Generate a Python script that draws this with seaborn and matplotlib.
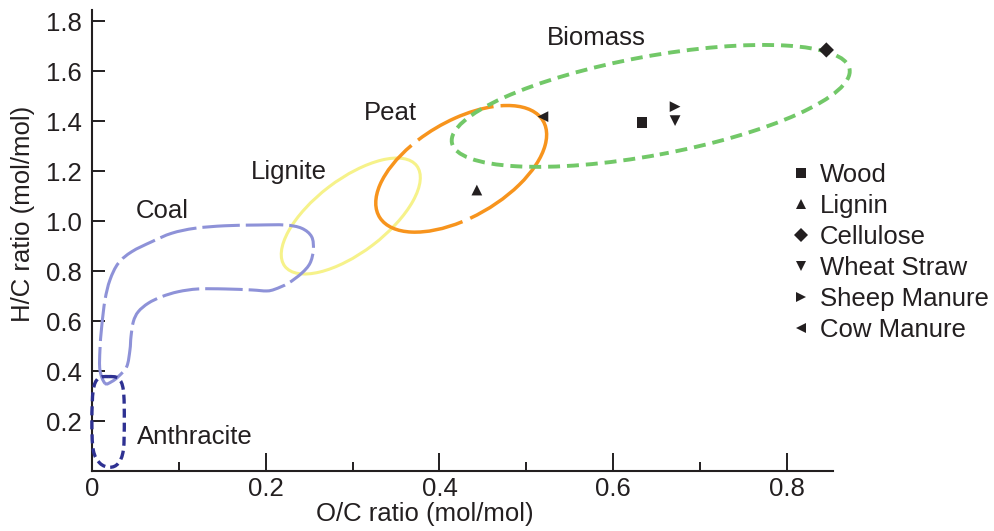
import numpy as np
import pandas as pd
import matplotlib
matplotlib.use("Agg")
import matplotlib.pyplot as plt
import seaborn as sns
from matplotlib.patches import Ellipse, Arc, PathPatch
from matplotlib.path import Path
from matplotlib.transforms import ScaledTranslation
from matplotlib.lines import Line2D
from matplotlib.ticker import MultipleLocator, FuncFormatter

# ---- feedstock samples (atomic ratios) ----
materials = ["Wood", "Lignin", "Cellulose", "Wheat Straw", "Sheep Manure", "Cow Manure"]
oc_ratio = [0.633, 0.443, 0.845, 0.671, 0.671, 0.519]
hc_ratio = [1.397, 1.125, 1.686, 1.403, 1.459, 1.419]
marker_shapes = ["s", "^", "D", "v", ">", "<"]

# ---- fuel regions drawn as ellipses: centre in (O/C, H/C) ----
region_names = ["Lignite", "Peat", "Biomass"]
region_oc = [0.298, 0.425, 0.643]
region_hc = [1.021, 1.210, 1.462]

# ---- coal band outline (O/C, H/C), traced clockwise from the lower-left tip ----
coal_oc = [0.0153, 0.0095, 0.0095, 0.0115, 0.0153, 0.0210, 0.0306, 0.0460, 0.0690,
           0.0920, 0.1188, 0.1533, 0.1916, 0.2223, 0.2415, 0.2530, 0.2549, 0.2511,
           0.2415, 0.2261, 0.2108, 0.2013, 0.1840, 0.1533, 0.1226, 0.0996, 0.0805,
           0.0651, 0.0536, 0.0479, 0.0452, 0.0440, 0.0403, 0.0306, 0.0230]
coal_hc = [0.351, 0.404, 0.485, 0.578, 0.685, 0.765, 0.832, 0.878, 0.918,
           0.952, 0.972, 0.982, 0.985, 0.985, 0.972, 0.938, 0.885, 0.832,
           0.792, 0.752, 0.728, 0.721, 0.725, 0.729, 0.729, 0.718, 0.698,
           0.672, 0.638, 0.598, 0.538, 0.485, 0.418, 0.378, 0.358]

# ---- anthracite outline ----
anth_oc = [0.0191, 0.0306, 0.0364, 0.0375, 0.0364, 0.0306, 0.0210, 0.0095,
           0.0018, 0.0002, 0.0018, 0.0076]
anth_hc = [0.378, 0.371, 0.324, 0.204, 0.084, 0.031, 0.015, 0.031,
           0.084, 0.204, 0.324, 0.371]

# region label text and anchor (O/C, H/C)
label_text = ["Coal", "Lignite", "Peat", "Biomass", "Anthracite"]
label_oc = [0.0809, 0.2269, 0.3431, 0.5800, 0.1188]
label_hc = [1.041, 1.197, 1.434, 1.734, 0.136]

INK = "#231f20"
FS = 18.5

sns.set_theme(style="ticks")
plt.rcParams["font.family"] = ["Liberation Sans", "DejaVu Sans"]
plt.rcParams["lines.scale_dashes"] = False

fig = plt.figure(figsize=(9.95, 5.31), dpi=100)
ax = fig.add_axes([91.7 / 995, 60 / 531, (833.3 - 91.7) / 995, (521 - 60) / 531])
ax.set_xlim(0, 0.853)
ax.set_ylim(0, 1.846)


def closed_smooth_path(xs, ys):
    """Closed Catmull-Rom outline expressed as cubic Bezier segments."""
    pts = np.column_stack([xs, ys])
    n = len(pts)
    verts = [pts[0]]
    codes = [Path.MOVETO]
    for i in range(n):
        p0, p1, p2, p3 = pts[(i - 1) % n], pts[i], pts[(i + 1) % n], pts[(i + 2) % n]
        verts += [p1 + (p2 - p0) / 6.0, p2 - (p3 - p1) / 6.0, p2]
        codes += [Path.CURVE4] * 3
    return Path(np.array(verts), codes)


def anchored(cx, cy):
    # ellipse sized in inches, centred at a data point
    return fig.dpi_scale_trans + ScaledTranslation(cx, cy, ax.transData)


# Coal band
ax.add_patch(PathPatch(closed_smooth_path(coal_oc, coal_hc), fill=False,
                       edgecolor="#8e92d8", lw=2.2, linestyle=(0, (27, 4.3)),
                       zorder=2, clip_on=False))

# Anthracite
ax.add_patch(PathPatch(closed_smooth_path(anth_oc, anth_hc), fill=False,
                       edgecolor="#2e3192", lw=2.4, linestyle=(0, (6.5, 3.6)),
                       zorder=3, clip_on=False))

# Lignite
ax.add_patch(Ellipse((0, 0), 1.658, 0.728, angle=37.3, fill=False,
                     edgecolor="#f6f28a", lw=2.2, clip_on=False,
                     transform=anchored(region_oc[0], region_hc[0]), zorder=1))

# Peat: solid outline with a few small breaks (parametric angles, degrees)
a_p, b_p, ang_p = 1.898, 0.960, 30.3
gaps_t = np.radians([48.7, 106.5, 257.0])
half_gap = np.radians(2.6)
starts = gaps_t + half_gap
ends = np.roll(gaps_t, -1) - half_gap
ends[-1] += 2 * np.pi
for t1, t2 in zip(starts, ends):
    th1 = np.degrees(np.arctan2(b_p * np.sin(t1), a_p * np.cos(t1)))
    th2 = np.degrees(np.arctan2(b_p * np.sin(t2), a_p * np.cos(t2)))
    if th2 <= th1:
        th2 += 360
    ax.add_patch(Arc((0, 0), a_p, b_p, angle=ang_p, theta1=th1, theta2=th2,
                     edgecolor="#f7941d", lw=2.5, clip_on=False,
                     transform=anchored(region_oc[1], region_hc[1]), zorder=2))

# Biomass
ax.add_patch(Ellipse((0, 0), 4.044, 0.988, angle=10.5, fill=False,
                     edgecolor="#72c868", lw=2.8, linestyle=(2, (8.6, 5.0)),
                     clip_on=False,
                     transform=anchored(region_oc[2], region_hc[2]), zorder=3))

# Samples
df = pd.DataFrame({"O/C": oc_ratio, "H/C": hc_ratio, "Material": materials})
sns.scatterplot(data=df, x="O/C", y="H/C", style="Material",
                markers=dict(zip(materials, marker_shapes)), style_order=materials,
                color=INK, s=60, linewidth=0, legend=False, ax=ax, zorder=6,
                clip_on=False)

for txt, x, y in zip(label_text, label_oc, label_hc):
    ax.text(x, y, txt, fontsize=FS, color=INK, ha="center", va="center")

# Legend
legend_sizes = [7.3, 6.8, 7.4, 6.8, 6.8, 6.8]
handles = [Line2D([], [], linestyle="none", marker=m, markersize=ms, color=INK,
                  markeredgewidth=0)
           for m, ms in zip(marker_shapes, legend_sizes)]
ax.legend(handles, materials, loc="upper left", bbox_to_anchor=(794 / 995, 1 - 163 / 531),
          bbox_transform=fig.transFigure, frameon=False, fontsize=FS,
          handlelength=0.55, handletextpad=0.47, labelspacing=0.27,
          borderpad=0, borderaxespad=0, labelcolor=INK)

# Axes styling
sns.despine(ax=ax)
for side in ("left", "bottom"):
    ax.spines[side].set_color(INK)
    ax.spines[side].set_linewidth(1.5)
ax.set_xticks([0, 0.2, 0.4, 0.6, 0.8])
ax.xaxis.set_minor_locator(MultipleLocator(0.1))
ax.set_yticks([0.2, 0.4, 0.6, 0.8, 1.0, 1.2, 1.4, 1.6, 1.8])
ax.xaxis.set_major_formatter(FuncFormatter(lambda v, p: "0" if abs(v) < 1e-9 else f"{v:.1f}"))
ax.yaxis.set_major_formatter(FuncFormatter(lambda v, p: f"{v:.1f}"))
ax.tick_params(axis="x", which="major", direction="in", length=13, width=1.4,
               color=INK, labelsize=FS, labelcolor=INK, pad=4.5)
ax.tick_params(axis="x", which="minor", direction="in", length=6.5, width=1.4, color=INK)
ax.tick_params(axis="y", which="major", direction="in", length=9, width=1.4,
               color=INK, labelsize=FS, labelcolor=INK, pad=7)

ax.set_xlabel("O/C ratio (mol/mol)", fontsize=FS, color=INK)
ax.set_ylabel("H/C ratio (mol/mol)", fontsize=FS, color=INK)
ax.xaxis.set_label_coords(0.449, -0.067)
ax.yaxis.set_label_coords(-0.0765, 0.5586)

fig.savefig("out.png", dpi=100)
